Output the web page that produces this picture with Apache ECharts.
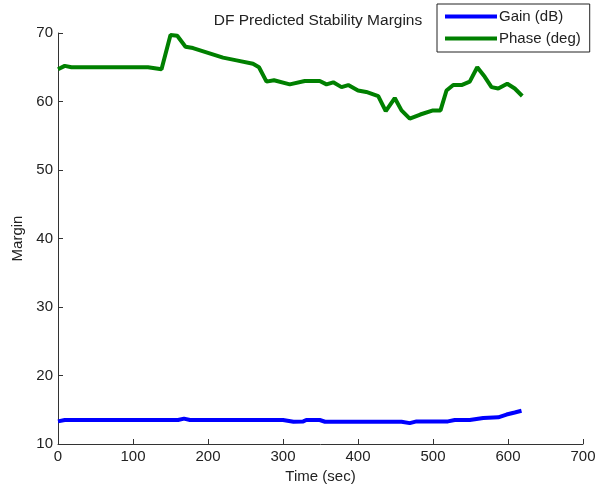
<!DOCTYPE html>
<html><head><meta charset="utf-8">
<script src="https://cdn.jsdelivr.net/npm/echarts@6/dist/echarts.min.js"></script>
<style>html,body{margin:0;padding:0;background:#fff}#c{width:601px;height:489px}</style>
</head><body><div id="c"></div>
<script>
const gainTime = [0, 9, 18, 60, 120, 160, 168, 176, 240, 300, 314, 327, 331, 349, 356, 400, 458, 469, 478, 520, 529, 549, 567, 587, 598, 609, 618];
const gainVals = [13.3, 13.5, 13.5, 13.5, 13.5, 13.5, 13.7, 13.5, 13.5, 13.5, 13.25, 13.3, 13.5, 13.5, 13.25, 13.25, 13.25, 13.05, 13.3, 13.3, 13.5, 13.5, 13.8, 13.9, 14.3, 14.6, 14.85];
const phaseTime = [0, 9, 18, 60, 120, 138, 150, 159, 170, 180, 220, 238, 260, 268, 278, 288, 309, 329, 349, 358, 367, 378, 387, 400, 411, 427, 437, 449, 458, 469, 483, 500, 510, 518, 527, 538, 549, 559, 569, 578, 587, 599, 609, 619];
const phaseVals = [64.7, 65.2, 65.0, 65.0, 65.0, 64.7, 69.7, 69.6, 68.0, 67.8, 66.4, 66.0, 65.5, 65.0, 62.9, 63.1, 62.5, 63.0, 63.0, 62.5, 62.8, 62.1, 62.4, 61.6, 61.4, 60.8, 58.6, 60.5, 58.7, 57.5, 58.1, 58.7, 58.7, 61.6, 62.4, 62.4, 62.9, 65.0, 63.6, 62.1, 61.9, 62.6, 61.9, 60.8];
const seriesNames = ['Gain (dB)', 'Phase (deg)'];
const titleText = 'DF Predicted Stability Margins';
const xName = 'Time (sec)';
const yName = 'Margin';

const font = 'Liberation Sans, Arial, sans-serif';
const chart = echarts.init(document.getElementById('c'));
const axisCommon = {
  axisLine: {show: true, lineStyle: {color: '#333', width: 1}},
  axisTick: {show: true, inside: true, length: 5, lineStyle: {color: '#333'}},
  splitLine: {show: false},
  axisLabel: {color: '#222', fontSize: 15, fontFamily: font},
  nameTextStyle: {color: '#222', fontSize: 15, fontFamily: font}
};
chart.setOption({
  animation: false,
  backgroundColor: '#fff',
  title: {text: titleText, left: 313, top: 8, textAlign: 'center',
    textStyle: {fontSize: 15.5, fontWeight: 'normal', color: '#222', fontFamily: font}},
  legend: {
    orient: 'vertical', left: 437, top: 4,
    borderColor: '#222', borderWidth: 1, padding: [5, 9, 6, 8], itemGap: 7,
    itemWidth: 52, itemHeight: 4, icon: 'rect',
    textStyle: {fontSize: 15, color: '#222', fontFamily: font, padding: [0, 0, 0, -3]},
    data: seriesNames
  },
  grid: {left: 58, right: 18, top: 33, bottom: 45},
  xAxis: Object.assign({}, axisCommon, {
    type: 'value', min: 0, max: 700, interval: 100,
    name: xName, nameLocation: 'middle', nameGap: 25,
    axisLabel: Object.assign({}, axisCommon.axisLabel, {margin: 5})
  }),
  yAxis: Object.assign({}, axisCommon, {
    type: 'value', min: 10, max: 70, interval: 10,
    name: yName, nameLocation: 'middle', nameGap: 31,
    axisLabel: Object.assign({}, axisCommon.axisLabel, {margin: 5})
  }),
  series: [
    {name: seriesNames[0], type: 'line', showSymbol: false, color: '#0000ff',
      lineStyle: {width: 4, color: '#0000ff'},
      data: gainTime.map((t, i) => [t, gainVals[i]])},
    {name: seriesNames[1], type: 'line', showSymbol: false, color: '#008000',
      lineStyle: {width: 4, color: '#008000'},
      data: phaseTime.map((t, i) => [t, phaseVals[i]])}
  ]
});
</script></body></html>
